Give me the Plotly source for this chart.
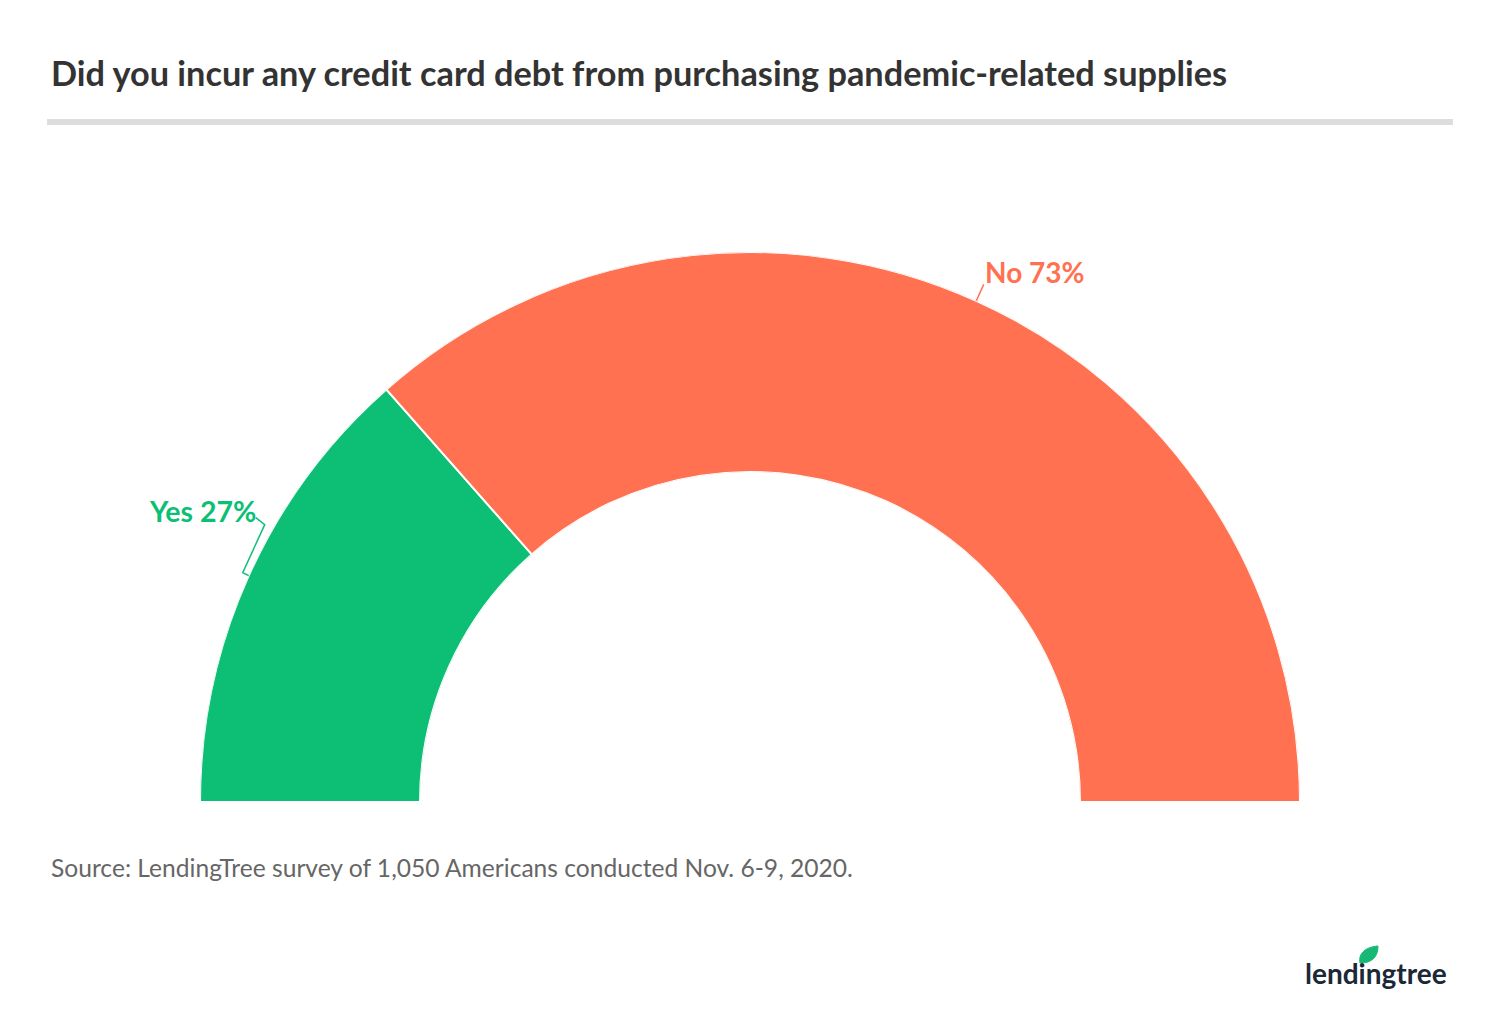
import math
import plotly.graph_objects as go

# ---- data ----
categories = ["Yes", "No"]
values = [27, 73]
colors = ["#0cbf75", "#ff7151"]
title_text = "Did you incur any credit card debt from purchasing pandemic-related supplies"
source_text = "Source: LendingTree survey of 1,050 Americans conducted Nov. 6-9, 2020."

W, H = 1489, 1011
OFF = 8                    # page body margin
CX, CY = 750, 802          # gauge centre in screen pixels
R_OUT, R_IN = 550, 330

def px(x):
    return (x - OFF) / W

def py(y):
    return 1 - (y - OFF) / H

total = sum(values)
widths, centers = [], []
start = 180.0
for v in values:
    w = 180.0 * v / total
    widths.append(w)
    centers.append(start - w / 2)
    start -= w

fig = go.Figure()
fig.add_trace(go.Barpolar(
    r=[1] * len(values), theta=centers, width=widths, base=0,
    marker=dict(color=colors, line=dict(color="white", width=2)),
    hoverinfo="skip", showlegend=False,
))

fig.update_layout(
    width=W, height=H,
    margin=dict(l=0, r=0, t=0, b=0),
    paper_bgcolor="white",
    font=dict(family="Lato", color="#333333"),
    polar=dict(
        domain=dict(x=[px(CX - R_OUT), px(CX + R_OUT)], y=[py(CY), py(CY - R_OUT)]),
        sector=[0, 180],
        hole=R_IN / R_OUT,
        bgcolor="white",
        radialaxis=dict(visible=False, range=[0, 1]),
        angularaxis=dict(visible=False, direction="counterclockwise", rotation=0),
    ),
)

# title and rule
fig.add_annotation(x=px(49), y=py(72), xref="paper", yref="paper", xanchor="left", yanchor="middle",
                   text="<b>" + title_text + "</b>", showarrow=False,
                   font=dict(size=34.3, color="#333333", family="Lato"))
fig.add_shape(type="line", xref="paper", yref="paper", x0=px(47), x1=px(1453), y0=py(122), y1=py(122),
              line=dict(color="#dddddd", width=6))

# source
fig.add_annotation(x=px(49), y=py(867), xref="paper", yref="paper", xanchor="left", yanchor="middle",
                   text=source_text, showarrow=False,
                   font=dict(size=24.6, color="#666666", family="Lato"))

# labels with leader lines computed from slice mid-angles
for i, (cat, v) in enumerate(zip(categories, values)):
    a = math.radians(centers[i])
    ux, uy = math.cos(a), -math.sin(a)
    x0, y0 = CX + R_OUT * ux, CY + R_OUT * uy
    if centers[i] > 90:
        x1, y1 = x0 - 6, y0 - 3
        x2, y2 = x1 + 22, y1 - 48
        x3, y3 = x2 - 9, y2 - 7
        path = f"M {px(x0)},{py(y0)} L {px(x1)},{py(y1)} L {px(x2)},{py(y2)} L {px(x3)},{py(y3)}"
        fig.add_shape(type="path", xref="paper", yref="paper", path=path,
                      line=dict(color=colors[i], width=1.5))
        fig.add_annotation(x=px(x3 + 2), y=py(y3 - 7), xref="paper", yref="paper",
                           xanchor="right", yanchor="middle", showarrow=False,
                           text=f"<b>{cat} {v}%</b>", font=dict(size=28.5, color=colors[i], family="Lato"))
    else:
        x1, y1 = x0 + 18 * ux, y0 + 18 * uy
        fig.add_shape(type="line", xref="paper", yref="paper", x0=px(x0), y0=py(y0), x1=px(x1), y1=py(y1),
                      line=dict(color=colors[i], width=1.5))
        fig.add_annotation(x=px(x1 - 1), y=py(y1 - 12), xref="paper", yref="paper",
                           xanchor="left", yanchor="middle", showarrow=False,
                           text=f"<b>{cat} {v}%</b>", font=dict(size=28, color=colors[i], family="Lato"))

# logo
fig.add_annotation(x=px(1449), y=py(973), xref="paper", yref="paper", xanchor="right", yanchor="middle",
                   text="<b>lendingtree</b>", showarrow=False,
                   font=dict(size=28, color="#1b2836", family="Lato"))
fig.add_shape(type="path", xref="paper", yref="paper",
              path=f"M {px(1360)},{py(963)} C {px(1358)},{py(953)} {px(1366)},{py(947)} {px(1378)},{py(946)} "
                   f"C {px(1378)},{py(957)} {px(1372)},{py(963)} {px(1360)},{py(963)} Z",
              fillcolor="#16b874", line=dict(color="#16b874", width=1))

fig.write_html("out.html")
